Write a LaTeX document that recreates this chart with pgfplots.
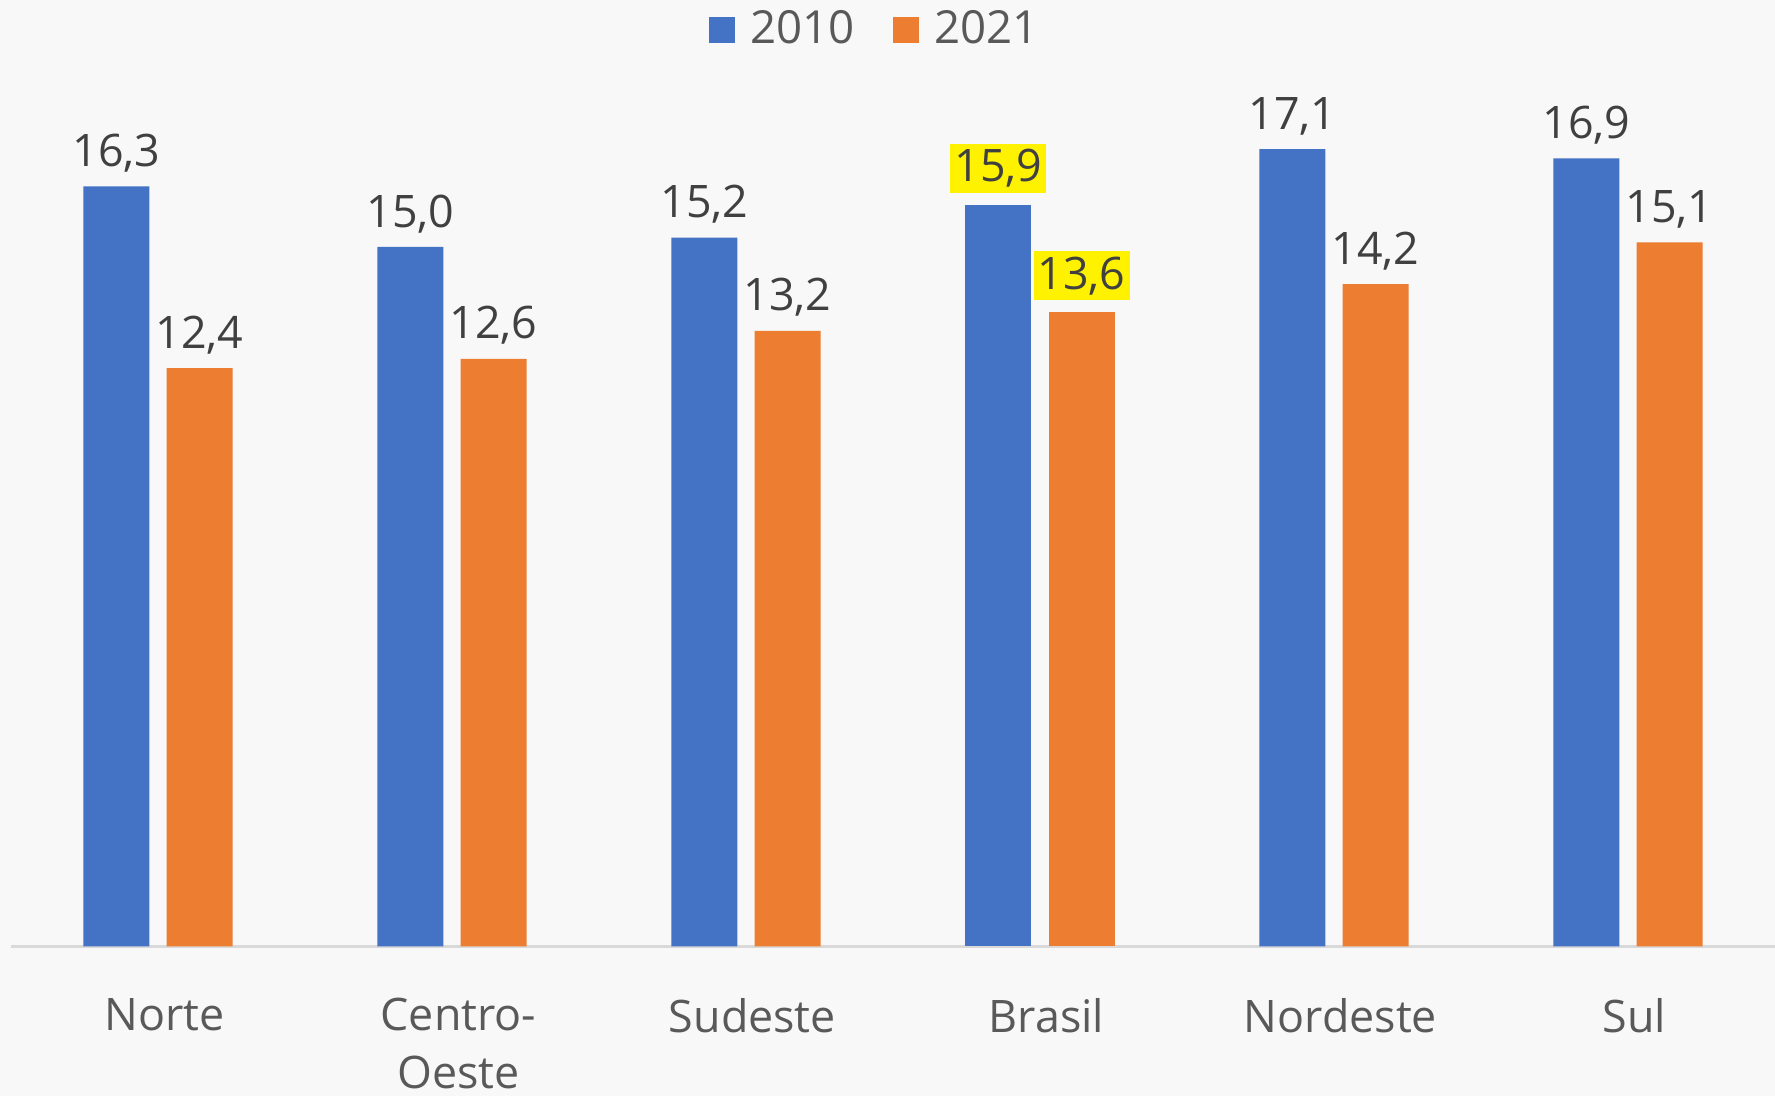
\documentclass[border=0pt]{standalone}
\usepackage{fontspec}
\setmainfont{Open Sans}
\usepackage{pgfplots}
\pgfplotsset{compat=1.18}
\definecolor{bg}{HTML}{F8F8F8}
\definecolor{barblue}{HTML}{4472C4}
\definecolor{barorange}{HTML}{ED7D31}
\definecolor{labgrey}{HTML}{404040}
\definecolor{catgrey}{HTML}{595959}
\definecolor{axgrey}{HTML}{D9D9D9}
\newcommand{\lblfont}{\fontsize{11.2}{13.4}\selectfont}
\begin{document}
\begin{tikzpicture}
\fill[bg] (-2.75pt,-37.5pt) rectangle (441pt,236.6pt);
\begin{axis}[
  at={(0,0)}, anchor=south west,
  scale only axis,
  width=441pt, height=221.5pt,
  xmin=-0.5, xmax=5.5, ymin=0, ymax=19,
  ybar, bar width=16.5pt,
  axis x line*=bottom, axis y line=none,
  x axis line style={draw=axgrey, line width=0.6pt},
  ytick=\empty,
  xtick={0,1,2,3,4,5},
  xticklabels={Norte,{Centro-\\Oeste},Sudeste,Brasil,Nordeste,Sul},
  major tick length=0pt,
  xticklabel style={font=\fontsize{11.2}{14.6}\selectfont, text=catgrey, align=center, anchor=north, yshift=-9.4pt, xshift=1.6pt},
  nodes near coords,
  /pgf/number format/.cd, fixed, fixed zerofill, precision=1, use comma, assume math mode=true,
  /pgfplots/.cd,
  every node near coord/.append style={font=\lblfont, text=labgrey},
  legend style={at={(0.4915,1.034)}, anchor=center, draw=none, fill=none,
    font=\fontsize{11.4}{14}\selectfont, text=catgrey,
    /tikz/every odd column/.append style={column sep=2pt},
    /tikz/every even column/.append style={column sep=7.5pt}},
  legend columns=2,
  clip=false,
]
\addplot[bar shift=-10.4pt, fill=barblue, draw=none,
  legend image code/.code={\fill[barblue] (0pt,-3.2pt) rectangle (6.4pt,3.2pt);}]
  coordinates {(0,16.3) (1,15.0) (2,15.2) (4,17.1) (5,16.9)};
\addlegendentry{2010}
\addplot[bar shift=10.4pt, fill=barorange, draw=none,
  legend image code/.code={\fill[barorange] (0pt,-3.2pt) rectangle (6.4pt,3.2pt);}]
  coordinates {(0,12.4) (1,12.6) (2,13.2) (4,14.2) (5,15.1)};
\addlegendentry{2021}
\addplot[bar shift=-10.4pt, fill=barblue, draw=none, forget plot,
  every node near coord/.append style={fill=yellow, inner xsep=1pt, inner ysep=1.4pt, yshift=2.75pt}]
  coordinates {(3,15.9)};
\addplot[bar shift=10.4pt, fill=barorange, draw=none, forget plot,
  every node near coord/.append style={fill=yellow, inner xsep=1pt, inner ysep=1.4pt, yshift=2.75pt}]
  coordinates {(3,13.6)};
\end{axis}
\pgfresetboundingbox
\path (-2.75pt,-37.5pt) rectangle (441pt,236.6pt);
\end{tikzpicture}
\end{document}
